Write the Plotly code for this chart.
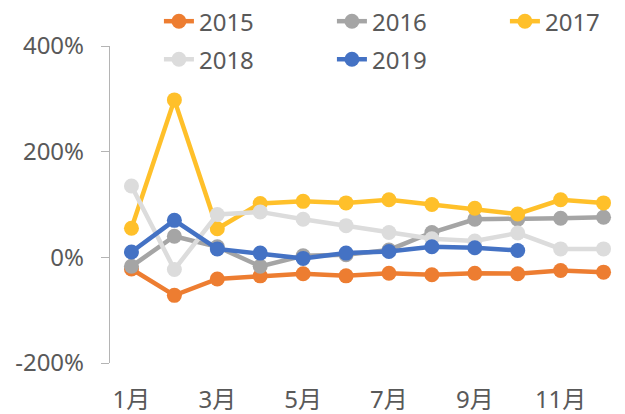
import plotly.graph_objects as go

months = list(range(1, 13))
tick_vals = [1, 3, 5, 7, 9, 11]
tick_text = ["1月", "3月", "5月", "7月", "9月", "11月"]
boundary_ticks = [2.5, 4.5, 6.5, 8.5, 10.5, 12.5]
y_vals = [-200, 0, 200, 400]
y_text = ["-200%", "0%", "200%", "400%"]

s2015 = [-22, -72, -41, -35, -31, -35, -30, -33, -30, -31, -25, -28]
s2016 = [-17, 40, 20, -17, 3, 5, 14, 47, 72, 72, 74, 76]
s2017 = [55, 298, 54, 102, 106, 103, 109, 100, 93, 82, 109, 103]
s2018 = [135, -23, 81, 86, 72, 60, 47, 35, 31, 46, 16, 16]
s2019 = [10, 70, 16, 8, -2, 8, 11, 20, 18, 13]

series = [
    ("2015", s2015, "#ED7D31", "legend"),
    ("2016", s2016, "#A5A5A5", "legend"),
    ("2017", s2017, "#FFC02A", "legend"),
    ("2018", s2018, "#DCDCDC", "legend2"),
    ("2019", s2019, "#4472C4", "legend2"),
]

FONT = "Noto Sans, Noto Sans CJK SC, sans-serif"
TXT = "#595959"
AXC = "#B4B4B4"
FS = 24

fig = go.Figure()
for name, vals, col, lg in series:
    fig.add_trace(go.Scatter(
        x=months[:len(vals)], y=vals, name=name, mode="lines+markers",
        line=dict(color=col, width=4.5),
        marker=dict(color=col, size=15),
        cliponaxis=False, legend=lg,
    ))

leg_common = dict(
    orientation="h", x=0.095, xanchor="left", yanchor="top",
    entrywidth=128, entrywidthmode="pixels",
    font=dict(family=FONT, size=FS, color=TXT),
    bgcolor="rgba(0,0,0,0)",
)

fig.update_layout(
    width=625, height=414,
    margin=dict(l=110, r=0, t=46, b=51, autoexpand=False),
    paper_bgcolor="white", plot_bgcolor="white",
    font=dict(family=FONT, size=FS, color=TXT),
    showlegend=True,
    legend=dict(y=1.148, **leg_common),
    legend2=dict(y=1.028, **leg_common),
    xaxis=dict(
        range=[0.5, 12.5], tickmode="array", tickvals=tick_vals, ticktext=tick_text,
        showgrid=False, zeroline=False, showline=False, ticks="",
        ticklabelstandoff=20,
    ),
    xaxis2=dict(
        range=[0.5, 12.5], overlaying="x", anchor="free", position=1/3,
        tickmode="array", tickvals=boundary_ticks, ticks="outside", ticklen=8,
        tickcolor=AXC, tickwidth=1.3, showticklabels=False, showgrid=False,
        zeroline=False, showline=True, linecolor=AXC, linewidth=1.3,
    ),
    yaxis=dict(
        range=[-200, 400], tickmode="array", tickvals=y_vals, ticktext=y_text,
        showgrid=False, zeroline=False, showline=True, linecolor=AXC, linewidth=1.3,
        ticks="outside", ticklen=8, tickcolor=AXC, tickwidth=1.3,
        ticklabelstandoff=12,
    ),
)

fig.write_html("out.html", config={"displayModeBar": False},
               post_script="document.body.style.margin='0';")
